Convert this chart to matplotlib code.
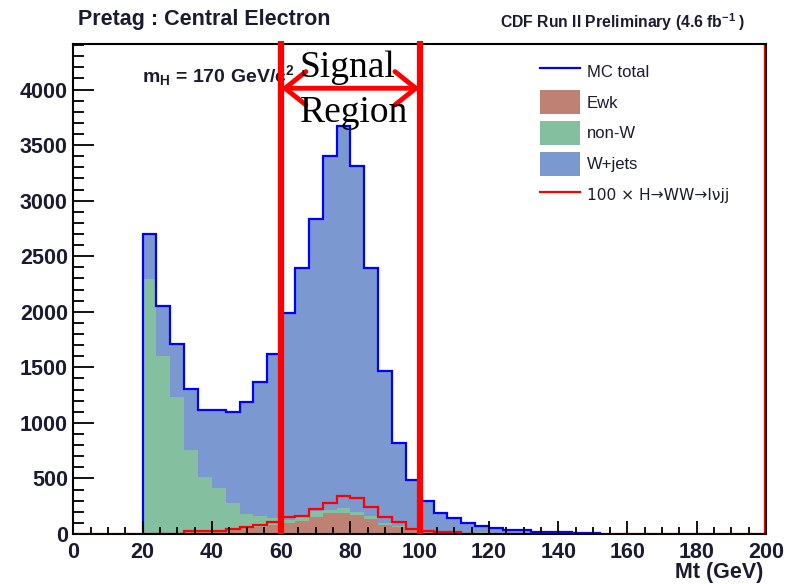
import numpy as np
import matplotlib
matplotlib.use("Agg")
import matplotlib.pyplot as plt
from matplotlib.patches import Patch, FancyArrowPatch, ArrowStyle
from matplotlib.lines import Line2D
from matplotlib.ticker import MultipleLocator

plt.rcParams['font.family'] = ['Liberation Sans', 'DejaVu Sans']
plt.rcParams['mathtext.fontset'] = 'custom'
plt.rcParams['mathtext.rm'] = 'Liberation Sans:bold'
plt.rcParams['mathtext.it'] = 'Liberation Sans:bold'
plt.rcParams['mathtext.bf'] = 'Liberation Sans:bold'

# Mt histograms, 4 GeV bins starting at 20 GeV
bin_lo = 20
bin_width = 4
ewk = [3, 4, 6, 20, 22, 25, 35, 50, 65, 85, 96, 120, 150, 192, 186, 171, 132,
       81, 60, 36, 25, 14, 10, 8, 6, 5, 4, 3, 2, 2, 2, 1, 1]
nonw = [2290, 1601, 1224, 736, 494, 386, 241, 130, 97, 56, 30, 30, 60, 24, 51,
        30, 30, 15, 12, 6, 5, 4, 4, 4, 14, 3, 2, 2, 2, 1, 1, 1, 1]
wjets = [405, 443, 479, 551, 599, 704, 818, 1007, 1205, 1478, 1865, 2242, 2621,
         3185, 3434, 3115, 2230, 1373, 743, 443, 270, 168, 127, 84, 52, 43, 32,
         31, 12, 12, 11, 11, 10]
higgs_x100 = [0, 0, 0, 30, 30, 30, 45, 65, 80, 111, 150, 162, 222, 282, 342,
              321, 246, 156, 111, 42, 30, 15, 15, 0, 0, 0, 0, 0, 0, 0, 0, 0, 0]
signal_lo, signal_hi = 60, 100

c_ewk = '#be8174'
c_nonw = '#84c0a0'
c_wjets = '#7b98d0'
c_text = '#1a1a30'

ewk = np.array(ewk)
nonw = np.array(nonw)
wjets = np.array(wjets)
edges = bin_lo + bin_width * np.arange(len(ewk) + 1)
total = ewk + nonw + wjets

fig = plt.figure(figsize=(8.01, 5.84), dpi=100)
ax = fig.add_axes([0.0916, 0.0856, 0.8647, 0.839])

# stacked backgrounds
ax.stairs(total, edges, baseline=ewk + nonw, fill=True, color=c_wjets, lw=0)
ax.stairs(ewk + nonw, edges, baseline=ewk, fill=True, color=c_nonw, lw=0)
ax.stairs(ewk, edges, baseline=0, fill=True, color=c_ewk, lw=0)
ax.stairs(total, edges, baseline=0, color='#0000ff', lw=1.6)

# scaled signal over the full 0-200 range
full_edges = np.arange(0, 201, bin_width)
higgs_full = np.zeros(len(full_edges) - 1)
i0 = bin_lo // bin_width
higgs_full[i0:i0 + len(higgs_x100)] = higgs_x100
ax.stairs(higgs_full, full_edges, baseline=None, color='#ff0000', lw=1.6)
ax.axvline(199.5, color='#ff0000', lw=1)

ax.set_xlim(0, 200)
ax.set_ylim(0, 4410)
ax.xaxis.set_major_locator(MultipleLocator(20))
ax.xaxis.set_minor_locator(MultipleLocator(5))
ax.yaxis.set_major_locator(MultipleLocator(500))
ax.yaxis.set_minor_locator(MultipleLocator(100))
ax.tick_params(axis='both', which='both', direction='in', width=1.3, colors='black',
               labelcolor=c_text, labelsize=15.5)
ax.tick_params(axis='y', which='major', length=15, pad=4)
ax.tick_params(axis='y', which='minor', length=8)
ax.tick_params(axis='x', which='major', length=9.5, pad=6)
ax.tick_params(axis='x', which='minor', length=4.7)
for lab in ax.get_xticklabels() + ax.get_yticklabels():
    lab.set_fontweight('bold')
for sp in ax.spines.values():
    sp.set_linewidth(1.5)

# signal region markers
for xv in (signal_lo, signal_hi):
    ax.plot([xv, xv], [0, 4440], color='#ff0000', lw=4.5, clip_on=False,
            solid_capstyle='butt', zorder=6)
arrow = FancyArrowPatch((signal_lo, 4012), (signal_hi, 4012),
                        arrowstyle=ArrowStyle('<->', head_length=15, head_width=12),
                        mutation_scale=1, lw=3.5, color='#ff0000',
                        shrinkA=0, shrinkB=0, zorder=6, clip_on=False)
ax.add_patch(arrow)
fig.text(347 / 801, 1 - 77 / 584, 'Signal', family='Liberation Serif', fontsize=27,
         ha='center', va='baseline', color='black', zorder=7)
fig.text(354 / 801, 1 - 122 / 584, 'Region', family='Liberation Serif', fontsize=27,
         ha='center', va='baseline', color='black', zorder=7)

ax.text(19.8, 4130, r'$\mathrm{m_H}$ = 170 GeV/c$^2$', fontsize=14, fontweight='bold',
        color=c_text, va='center', ha='left')

fig.text(78 / 801, 1 - 25 / 584, 'Pretag : Central Electron', fontsize=15.5,
         fontweight='bold', color=c_text, ha='left', va='baseline')
fig.text(745 / 801, 1 - 28 / 584, r'CDF Run II Preliminary (4.6 fb$^{-1}$ )',
         fontsize=11.3, fontweight='bold', color=c_text, ha='right', va='baseline')
fig.text(763 / 801, 1 - 578 / 584, 'Mt (GeV)', fontsize=15.5, fontweight='bold',
         color=c_text, ha='right', va='baseline')

handles = [
    Line2D([], [], color='#0000ff', lw=1.6),
    Patch(facecolor=c_ewk, edgecolor='none'),
    Patch(facecolor=c_nonw, edgecolor='none'),
    Patch(facecolor=c_wjets, edgecolor='none'),
    Line2D([], [], color='#ff0000', lw=1.6),
]
labels = ['MC total', 'Ewk', 'non-W', 'W+jets', '100 × H→WW→lνjj']
leg = fig.legend(handles, labels, loc='upper left',
                 bbox_to_anchor=(540 / 801, 1 - 59.5 / 584),
                 frameon=False, fontsize=12, handlelength=2.4, handleheight=1.8,
                 labelspacing=0.44, handletextpad=0.42, borderpad=0, borderaxespad=0,
                 labelcolor=c_text)
# the arrows read better in DejaVu
leg.get_texts()[-1].set_family(['DejaVu Sans'])
leg.get_texts()[-1].set_fontsize(11.2)

fig.savefig('out.png', dpi=100)
